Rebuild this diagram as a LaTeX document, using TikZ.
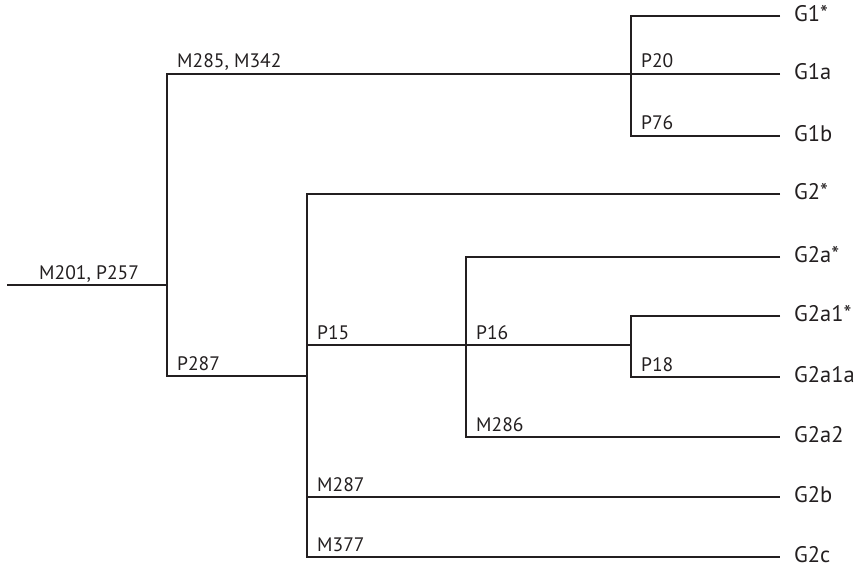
\documentclass[tikz,border=0pt]{standalone}
\usepackage{fontspec}
\setmainfont{PT Sans}
\definecolor{cink}{HTML}{231F20}
\tikzset{
  every picture/.style={x=1pt, y=-1pt, line width=2.4pt, color=cink},
  leaf/.style={anchor=west, inner xsep=13pt, inner ysep=0pt, text height=11pt, text depth=0pt,
    font=\fontsize{22.5}{24}\selectfont},
  tag/.style={anchor=base west, inner sep=0pt, xshift=9pt, yshift=6pt, font=\fontsize{19.5}{21}\selectfont},
}

\begin{document}
\begin{tikzpicture}
  \useasboundingbox (0,0) rectangle (859,564);
  % branch points
  \coordinate (root) at (7,285);
  \coordinate (n0) at (167,285);
  \coordinate (n1) at (631,74);
  \coordinate (n2) at (307,376);
  \coordinate (n3) at (466,345);
  \coordinate (n4) at (631,345);
  % leaves
  \foreach \nm/\y/\txt in {G1s/16/G1*, G1a/74/G1a, G1b/136/G1b, G2s/194/G2*, G2as/257/G2a*,
      G2a1s/316/G2a1*, G2a1a/377/G2a1a, G2a2/437/G2a2, G2b/497/G2b, G2c/557/G2c}
    \node[leaf] (\nm) at (780,\y) {\txt};
  % tree
  \draw (root) -- (n0);
  \draw (G1a.west) -| (n0) |- (n2);
  \draw (G1s.west) -| (n1) |- (G1b.west);
  \draw (G2s.west) -| (n2) |- (G2c.west);
  \draw (n2 |- n3) -- (n4);
  \draw (n2 |- G2b.west) -- (G2b.west);
  \draw (G2as.west) -| (n3) |- (G2a2.west);
  \draw (G2a1s.west) -| (n4) |- (G2a1a.west);
  % mutations
  \node[tag, xshift=22pt] (t0) at (root) {M201, P257};
  \node[tag] (t1) at (n0 |- G1a.west) {M285, M342};
  \node[tag] (t2) at (n1) {P20};
  \node[tag] (t3) at (n1 |- G1b.west) {P76};
  \node[tag] (t4) at (n0 |- n2) {P287};
  \node[tag] (t5) at (n2 |- n3) {P15};
  \node[tag] (t6) at (n2 |- G2b.west) {M287};
  \node[tag] (t7) at (n2 |- G2c.west) {M377};
  \node[tag] (t8) at (n3) {P16};
  \node[tag] (t9) at (n3 |- G2a2.west) {M286};
  \node[tag] (t10) at (n4 |- G2a1a.west) {P18};
\end{tikzpicture}
\end{document}
